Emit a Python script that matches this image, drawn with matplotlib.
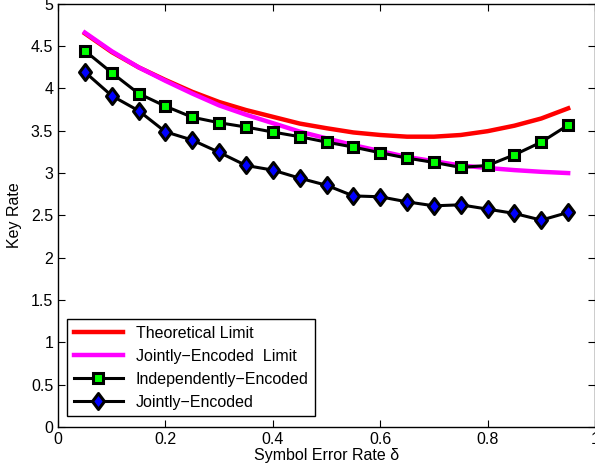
import matplotlib
matplotlib.use("Agg")
import matplotlib.pyplot as plt
from matplotlib.path import Path

plt.rcParams['font.family'] = ['Liberation Sans', 'DejaVu Sans']

# symbol error rate
delta = [0.05, 0.10, 0.15, 0.20, 0.25, 0.30, 0.35, 0.40, 0.45, 0.50,
         0.55, 0.60, 0.65, 0.70, 0.75, 0.80, 0.85, 0.90, 0.95]

teorico = [4.65, 4.43, 4.25, 4.10, 3.96, 3.84, 3.745, 3.665, 3.585, 3.53,
           3.48, 3.45, 3.43, 3.43, 3.45, 3.495, 3.56, 3.645, 3.765]
limite_conjunto = [4.66, 4.44, 4.25, 4.09, 3.94, 3.80, 3.69, 3.59, 3.49, 3.41,
                   3.33, 3.26, 3.19, 3.14, 3.09, 3.06, 3.035, 3.015, 3.00]
independiente = [4.445, 4.186, 3.94, 3.79, 3.66, 3.595, 3.544, 3.485, 3.43, 3.366,
                 3.307, 3.24, 3.177, 3.126, 3.067, 3.09, 3.216, 3.366, 3.567]
conjunto = [4.194, 3.914, 3.737, 3.488, 3.39, 3.245, 3.09, 3.035, 2.94, 2.856,
            2.73, 2.72, 2.66, 2.613, 2.625, 2.574, 2.523, 2.444, 2.535]

etiquetas = ["Theoretical Limit", "Jointly\u2212Encoded  Limit",
             "Independently\u2212Encoded", "Jointly\u2212Encoded"]

# rombo estilo matlab (un poco mas alto que ancho)
rombo = Path([(0, 1), (0.75, 0), (0, -1), (-0.75, 0), (0, 1)],
             [Path.MOVETO, Path.LINETO, Path.LINETO, Path.LINETO, Path.CLOSEPOLY])

fig = plt.figure(figsize=(5.95, 4.76), dpi=100)
ax = fig.add_axes([0.0975, 0.103, 0.9025, 0.889])

ax.plot(delta, teorico, color='#ff0000', lw=3.2, label=etiquetas[0])
ax.plot(delta, limite_conjunto, color='#ff00ff', lw=3.2, label=etiquetas[1])
ax.plot(delta, independiente, color='black', lw=2.2, marker='s', ms=7.5,
        mfc='#00ff00', mec='black', mew=2.2, label=etiquetas[2])
ax.plot(delta, conjunto, color='black', lw=2.2, marker=rombo, ms=11.5,
        mfc='#0000ff', mec='black', mew=2.2, label=etiquetas[3])

ax.set_xlim(0, 1)
ax.set_ylim(0, 5)
ax.set_xticks([0, 0.2, 0.4, 0.6, 0.8, 1])
ax.set_xticklabels(["0", "0.2", "0.4", "0.6", "0.8", "1"])
ax.set_yticks([0, 0.5, 1, 1.5, 2, 2.5, 3, 3.5, 4, 4.5, 5])
ax.set_yticklabels(["0", "0.5", "1", "1.5", "2", "2.5", "3", "3.5", "4", "4.5", "5"])
ax.tick_params(direction='in', top=True, right=True, labelsize=11.5, length=5)
for s in ax.spines.values():
    s.set_linewidth(1)

ax.set_xlabel("Symbol Error Rate \u03b4", fontsize=11.5, labelpad=1)
ax.set_ylabel("Key Rate", fontsize=11.5, labelpad=6)

leg = ax.legend(loc='lower left', bbox_to_anchor=(0.017, 0.026), borderaxespad=0,
                fancybox=False, edgecolor='black', fontsize=11.5, handlelength=3.1,
                labelspacing=0.5, framealpha=1)
leg.get_frame().set_linewidth(1)

fig.savefig("out.png", dpi=100)
